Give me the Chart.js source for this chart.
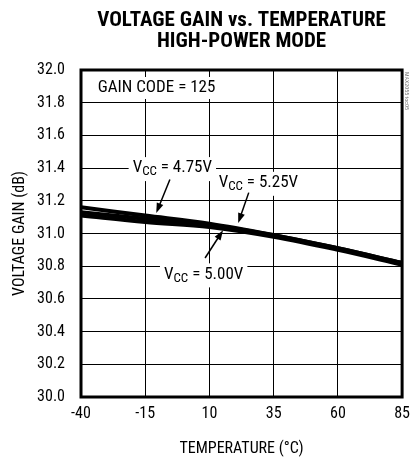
<!DOCTYPE html>
<html>
<head>
<meta charset="utf-8">
<script src="https://cdn.jsdelivr.net/npm/chart.js@4.4.1/dist/chart.umd.min.js"></script>
<style>
  html, body { margin: 0; padding: 0; background: #fff; }
</style>
</head>
<body>
<canvas id="myChart" width="417" height="457"></canvas>
<script>
// Data
const temps = [-40, -15, 10, 35, 60, 85]
const gain475 = [31.16, 31.11, 31.06, 30.99, 30.91, 30.82]
const gain525 = [31.13, 31.09, 31.05, 30.99, 30.91, 30.82]
const gain500 = [31.11, 31.07, 31.04, 30.98, 30.90, 30.81]
const xTicks = [-40, -15, 10, 35, 60, 85]
const yTicks = [30.0, 30.2, 30.4, 30.6, 30.8, 31.0, 31.2, 31.4, 31.6, 31.8, 32.0]

const FONT = "'Roboto Condensed', 'Liberation Sans', Arial, sans-serif"

function pts(ys) {
  return temps.map((t, i) => ({ x: t, y: ys[i] }))
}

// Text labels (in data units) with arrows
const notes = [
  { text: ['V', 'CC', ' = 4.75V'], x: -19.9, y: 31.40, arrow: [-5.4, 31.33, -10.7, 31.125] },
  { text: ['V', 'CC', ' = 5.25V'], x: 13.6, y: 31.31, arrow: [25.3, 31.25, 21.2, 31.064] },
  { text: ['V', 'CC', ' = 5.00V'], x: -7.7, y: 30.75, arrow: [8.3, 30.85, 15.3, 31.02] }
]

const annotate = {
  id: 'annotate',
  beforeDraw(chart) {
    // title, centred over the plot area
    const ctx = chart.ctx
    const a = chart.chartArea
    ctx.save()
    ctx.fillStyle = '#000'
    ctx.textAlign = 'center'
    ctx.textBaseline = 'alphabetic'
    ctx.font = 'bold 21px ' + FONT
    let cx = (a.left + a.right) / 2
    ctx.fillText('VOLTAGE GAIN vs. TEMPERATURE', cx, 26)
    ctx.fillText('HIGH-POWER MODE', cx, 47)
    ctx.restore()
  },
  afterDatasetsDraw(chart) {
    const ctx = chart.ctx
    const xs = chart.scales.x, ys = chart.scales.y
    const a = chart.chartArea
    ctx.save()

    // GAIN CODE box
    ctx.font = '17px ' + FONT
    ctx.textBaseline = 'middle'
    let gx = xs.getPixelForValue(-33.5), gy = ys.getPixelForValue(31.89)
    let gw = ctx.measureText('GAIN CODE = 125').width
    ctx.fillStyle = '#fff'
    ctx.fillRect(gx - 4, gy - 11, gw + 8, 22)
    ctx.fillStyle = '#000'
    ctx.fillText('GAIN CODE = 125', gx, gy)

    notes.forEach(n => {
      let px = xs.getPixelForValue(n.x), py = ys.getPixelForValue(n.y)
      ctx.font = '17px ' + FONT
      let w1 = ctx.measureText(n.text[0]).width
      ctx.font = '13px ' + FONT
      let w2 = ctx.measureText(n.text[1]).width
      ctx.font = '17px ' + FONT
      let w3 = ctx.measureText(n.text[2]).width
      ctx.fillStyle = '#fff'
      ctx.fillRect(px - 4, py - 11, w1 + w2 + w3 + 8, 24)
      ctx.fillStyle = '#000'
      ctx.fillText(n.text[0], px, py)
      ctx.font = '13px ' + FONT
      ctx.fillText(n.text[1], px + w1, py + 4)
      ctx.font = '17px ' + FONT
      ctx.fillText(n.text[2], px + w1 + w2, py)

      // arrow
      let x0 = xs.getPixelForValue(n.arrow[0]), y0 = ys.getPixelForValue(n.arrow[1])
      let x1 = xs.getPixelForValue(n.arrow[2]), y1 = ys.getPixelForValue(n.arrow[3])
      let ang = Math.atan2(y1 - y0, x1 - x0)
      ctx.strokeStyle = '#000'
      ctx.lineWidth = 1.5
      ctx.beginPath()
      ctx.moveTo(x0, y0)
      ctx.lineTo(x1 - 6 * Math.cos(ang), y1 - 6 * Math.sin(ang))
      ctx.stroke()
      ctx.beginPath()
      ctx.moveTo(x1, y1)
      ctx.lineTo(x1 - 10 * Math.cos(ang) + 3.5 * Math.sin(ang), y1 - 10 * Math.sin(ang) - 3.5 * Math.cos(ang))
      ctx.lineTo(x1 - 10 * Math.cos(ang) - 3.5 * Math.sin(ang), y1 - 10 * Math.sin(ang) + 3.5 * Math.cos(ang))
      ctx.closePath()
      ctx.fillStyle = '#000'
      ctx.fill()
    })

    // plot frame
    ctx.strokeStyle = '#000'
    ctx.lineWidth = 3
    ctx.strokeRect(a.left, a.top, a.right - a.left, a.bottom - a.top)

    // tiny side tag
    ctx.translate(a.right + 4, a.top + 2)
    ctx.rotate(Math.PI / 2)
    ctx.font = '6px ' + FONT
    ctx.fillStyle = '#777'
    ctx.textBaseline = 'middle'
    ctx.fillText('MAX2055 toc05', 0, 0)
    ctx.restore()
  }
}

const lineSet = (label, ys) => ({
  label: label,
  data: pts(ys),
  borderColor: '#000',
  borderWidth: 4,
  pointRadius: 0,
  tension: 0.35,
  fill: false
})

const data = {
  datasets: [
    lineSet('VCC = 4.75V', gain475),
    lineSet('VCC = 5.25V', gain525),
    lineSet('VCC = 5.00V', gain500)
  ]
}

const config = {
  type: 'line',
  data: data,
  plugins: [annotate],
  options: {
    responsive: false,
    animation: false,
    layout: { padding: { left: 6, right: 0, top: 70, bottom: 0 } },
    plugins: {
      legend: { display: false },
      tooltip: { enabled: false },
      title: { display: false }
    },
    scales: {
      x: {
        type: 'linear',
        min: -40, max: 85,
        afterBuildTicks: s => { s.ticks = xTicks.map(v => ({ value: v })) },
        afterFit: s => { s.height = 60 },
        grid: { color: '#000', lineWidth: 1, drawTicks: false },
        border: { display: false },
        ticks: { color: '#000', font: { family: FONT, size: 16 }, padding: 7, maxRotation: 0 },
        title: { display: true, text: 'TEMPERATURE (°C)', color: '#000', font: { family: FONT, size: 16 }, padding: { top: 8, bottom: -2 } }
      },
      y: {
        type: 'linear',
        min: 30, max: 32,
        afterBuildTicks: s => { s.ticks = yTicks.map(v => ({ value: v })) },
        afterFit: s => { s.width = 75 },
        grid: { color: '#000', lineWidth: 1, drawTicks: false },
        border: { display: false },
        ticks: { color: '#000', font: { family: FONT, size: 16 }, padding: 16, callback: v => v.toFixed(1) },
        title: { display: true, text: 'VOLTAGE GAIN (dB)', color: '#000', font: { family: FONT, size: 16 }, padding: { bottom: 4 } }
      }
    }
  }
}

const myChart = new Chart(document.getElementById('myChart'), config)
</script>
</body>
</html>
